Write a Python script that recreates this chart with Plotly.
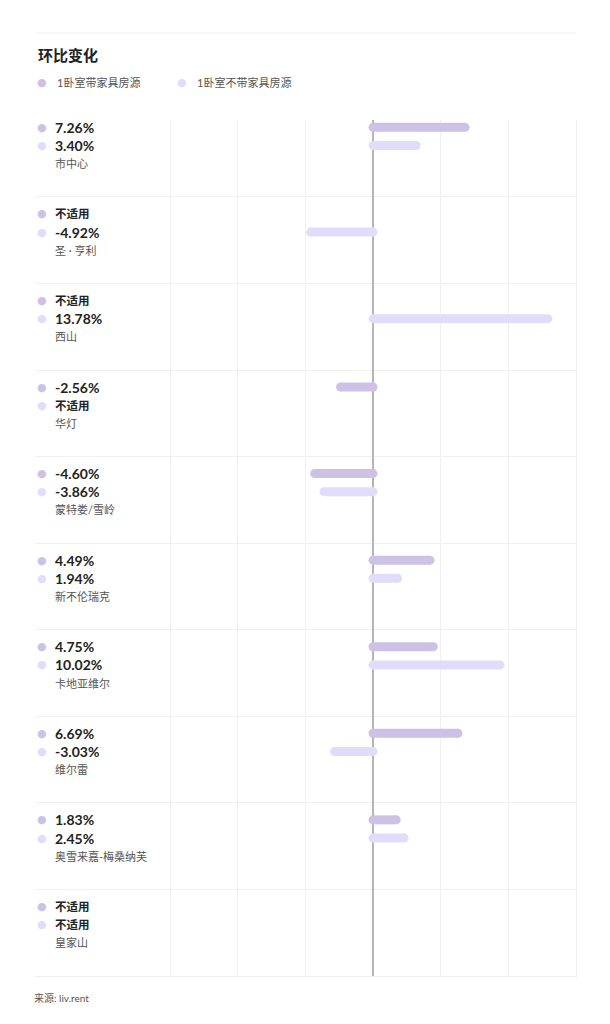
import plotly.graph_objects as go

# data
areas = ['市中心', '圣 · 亨利', '西山', '华灯', '蒙特娄/雪岭', '新不伦瑞克',
         '卡地亚维尔', '维尔雷', '奥雪来嘉-梅桑纳芙', '皇家山']
furnished = [7.26, None, None, -2.56, -4.60, 4.49, 4.75, 6.69, 1.83, None]
unfurnished = [3.40, -4.92, 13.78, None, -3.86, 1.94, 10.02, -3.03, 2.45, None]
series_names = ['1卧室带家具房源', '1卧室不带家具房源']
x_max = 16
x_ticks = [x_max * k / 3 for k in range(-3, 4)]
na_text = '不适用'
title_text = '环比变化'
source_text = '来源: liv.rent'

colors = ['#cdc2e6', '#e2dcfb']
font_latin = 'Lato, "Noto Sans CJK SC", sans-serif'
# page has an 8px body margin, so the figure is a bit smaller than the window
W, H = 602, 1016
ML, MR, MT, MB = 27, 34, 112, 48
OFF = 8

# row offsets (fraction of a row) for first bar, second bar, area name
offs = [0.196, 0.406, 0.616]


def fmt(v):
    return na_text if v is None else f'{v:.2f}%'


fig = go.Figure()
for k, vals in enumerate([furnished, unfurnished]):
    for i, v in enumerate(vals):
        if v is None:
            continue
        y = i + offs[k]
        fig.add_trace(go.Scatter(
            x=[0, v], y=[y, y],
            mode='lines+markers',
            line=dict(color=colors[k], width=9),
            marker=dict(color=colors[k], size=9, line=dict(width=0)),
            hoverinfo='skip',
            showlegend=False,
            cliponaxis=False,
        ))

plot_h = H - MT - MB


def py(screen_y):
    # screen pixel (from top of window) -> paper y
    return (H - MB - (screen_y - OFF)) / plot_h


annotations = []
shapes = []
for i, name in enumerate(areas):
    for k, vals in enumerate([furnished, unfurnished]):
        y = i + offs[k]
        annotations.append(dict(
            x=0, xref='paper', y=y, yref='y', xanchor='center', yanchor='middle',
            xshift=7, text='●', showarrow=False,
            font=dict(size=11, color=colors[k], family='DejaVu Sans'),
        ))
        annotations.append(dict(
            x=0, xref='paper', y=y, yref='y', xanchor='left', yanchor='middle',
            xshift=18, text=f'<b>{fmt(vals[i])}</b>', showarrow=False,
            font=dict(size=11.5 if vals[i] is None else 14, color='#222222',
                      family=font_latin),
        ))
    annotations.append(dict(
        x=0, xref='paper', y=i + offs[2], yref='y', xanchor='left', yanchor='middle',
        xshift=18, text=name, showarrow=False,
        font=dict(size=11, color='#555555', family=font_latin),
    ))

# title
annotations.append(dict(
    x=0, xref='paper', y=py(55), yref='paper', xanchor='left', yanchor='middle',
    xshift=1, text=f'<b>{title_text}</b>', showarrow=False,
    font=dict(size=15, color='#222222', family=font_latin),
))
# legend
legend_x = [7, 147]
for k, s in enumerate(series_names):
    annotations.append(dict(
        x=0, xref='paper', y=py(82), yref='paper', xanchor='center', yanchor='middle',
        xshift=legend_x[k], text='●', showarrow=False,
        font=dict(size=11, color=colors[k], family='DejaVu Sans'),
    ))
    annotations.append(dict(
        x=0, xref='paper', y=py(82), yref='paper', xanchor='left', yanchor='middle',
        xshift=legend_x[k] + 13, text=s, showarrow=False,
        font=dict(size=11, color='#555555', family=font_latin),
    ))
# source
annotations.append(dict(
    x=0, xref='paper', y=py(998), yref='paper', xanchor='left', yanchor='middle',
    xshift=-3, text=source_text, showarrow=False,
    font=dict(size=10, color='#555555', family=font_latin),
))

shapes.append(dict(
    type='line', xref='paper', yref='paper', x0=0, x1=1, y0=py(33), y1=py(33),
    line=dict(color='#f0f0f0', width=1),
))

row_px = 86.6
top_val = (120 - 110.4) / row_px
# label column is 135px wide, bar area is 406px wide for 2 * x_max
x_left = -x_max - 135 / (406 / (2 * x_max))
fig.update_layout(
    width=W, height=H,
    margin=dict(l=ML, r=MR, t=MT, b=MB),
    paper_bgcolor='white', plot_bgcolor='white',
    showlegend=False,
    xaxis=dict(
        range=[x_left, x_max], tickvals=x_ticks, showticklabels=False,
        showgrid=True, gridcolor='#f0f0f0', gridwidth=1,
        zeroline=True, zerolinecolor='#b5b5b5', zerolinewidth=1.5,
        showline=True, linecolor='#eeeeee', linewidth=1,
        fixedrange=True,
    ),
    yaxis=dict(
        range=[len(areas), top_val], tickvals=list(range(1, len(areas))),
        showticklabels=False, showgrid=True, gridcolor='#f0f0f0', gridwidth=1,
        zeroline=False, side='right', showline=True, linecolor='#f0f0f0',
        linewidth=1, fixedrange=True,
    ),
    annotations=annotations,
    shapes=shapes,
)

fig.write_html('out.html')
